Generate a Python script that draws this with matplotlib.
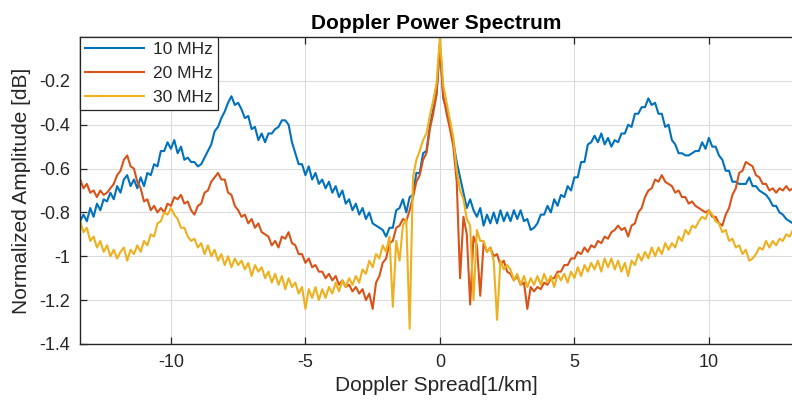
import numpy as np
import matplotlib
matplotlib.use("Agg")
import matplotlib.pyplot as plt

plt.rcParams['font.family'] = ['Liberation Sans', 'DejaVu Sans']

# Doppler spread axis (1/km), uniformly sampled
doppler = np.linspace(-13.375, 13.125, 213)

amp_10mhz = [
    -0.84, -0.81, -0.84, -0.78, -0.82, -0.76, -0.79, -0.74,
    -0.75, -0.71, -0.74, -0.68, -0.71, -0.65, -0.63, -0.68,
    -0.65, -0.69, -0.64, -0.68, -0.62, -0.63, -0.58, -0.59,
    -0.52, -0.52, -0.48, -0.51, -0.47, -0.53, -0.50, -0.56,
    -0.55, -0.57, -0.57, -0.59, -0.58, -0.55, -0.52, -0.49,
    -0.43, -0.41, -0.37, -0.34, -0.30, -0.27, -0.31, -0.30,
    -0.33, -0.37, -0.36, -0.42, -0.41, -0.47, -0.44, -0.48,
    -0.44, -0.44, -0.42, -0.41, -0.38, -0.38, -0.40, -0.48,
    -0.53, -0.58, -0.58, -0.63, -0.59, -0.65, -0.62, -0.67,
    -0.65, -0.69, -0.66, -0.71, -0.68, -0.73, -0.70, -0.76,
    -0.74, -0.79, -0.76, -0.81, -0.78, -0.83, -0.80, -0.85,
    -0.86, -0.87, -0.88, -0.91, -0.87, -0.87, -0.79, -0.78,
    -0.74, -0.80, -0.73, -0.72, -0.62, -0.62, -0.53, -0.52,
    -0.41, -0.33, -0.26, -0.03, -0.28, -0.33, -0.40, -0.48,
    -0.57, -0.64, -0.71, -0.78, -0.74, -0.79, -0.82, -0.78,
    -0.86, -0.81, -0.85, -0.80, -0.85, -0.79, -0.84, -0.80,
    -0.84, -0.79, -0.83, -0.79, -0.84, -0.83, -0.88, -0.87,
    -0.85, -0.81, -0.81, -0.77, -0.80, -0.74, -0.77, -0.72,
    -0.73, -0.68, -0.70, -0.64, -0.64, -0.57, -0.57, -0.49,
    -0.48, -0.45, -0.48, -0.44, -0.49, -0.46, -0.50, -0.47,
    -0.48, -0.44, -0.44, -0.40, -0.41, -0.35, -0.35, -0.32,
    -0.32, -0.28, -0.31, -0.30, -0.35, -0.35, -0.41, -0.40,
    -0.47, -0.49, -0.53, -0.53, -0.54, -0.54, -0.53, -0.52,
    -0.52, -0.48, -0.51, -0.46, -0.50, -0.50, -0.54, -0.56,
    -0.61, -0.61, -0.66, -0.66, -0.67, -0.67, -0.67, -0.64,
    -0.68, -0.68, -0.70, -0.71, -0.72, -0.74, -0.77, -0.77,
    -0.80, -0.81, -0.83, -0.84, -0.85,
]

amp_20mhz = [
    -0.65, -0.69, -0.67, -0.71, -0.70, -0.73, -0.70, -0.72,
    -0.71, -0.69, -0.67, -0.63, -0.61, -0.56, -0.54, -0.59,
    -0.60, -0.66, -0.69, -0.75, -0.74, -0.79, -0.77, -0.80,
    -0.78, -0.80, -0.76, -0.77, -0.73, -0.74, -0.72, -0.76,
    -0.75, -0.79, -0.81, -0.77, -0.76, -0.71, -0.70, -0.66,
    -0.64, -0.62, -0.65, -0.65, -0.71, -0.72, -0.77, -0.79,
    -0.82, -0.81, -0.85, -0.83, -0.87, -0.85, -0.89, -0.90,
    -0.91, -0.95, -0.93, -0.96, -0.91, -0.92, -0.89, -0.94,
    -0.95, -0.99, -0.99, -1.03, -1.01, -1.05, -1.04, -1.07,
    -1.07, -1.10, -1.08, -1.11, -1.09, -1.13, -1.11, -1.14,
    -1.13, -1.16, -1.14, -1.17, -1.15, -1.20, -1.17, -1.24,
    -1.12, -1.09, -1.03, -1.01, -0.94, -0.93, -0.87, -0.86,
    -0.83, -0.84, -0.79, -0.73, -0.66, -0.63, -0.56, -0.53,
    -0.42, -0.35, -0.26, -0.04, -0.27, -0.35, -0.42, -0.50,
    -0.66, -1.10, -0.82, -0.90, -1.22, -0.91, -0.95, -1.18,
    -0.94, -0.98, -0.96, -1.00, -0.99, -1.04, -1.02, -1.07,
    -1.08, -1.11, -1.09, -1.13, -1.12, -1.24, -1.14, -1.16,
    -1.14, -1.15, -1.12, -1.13, -1.10, -1.10, -1.07, -1.07,
    -1.04, -1.04, -1.01, -1.01, -0.98, -0.99, -0.96, -0.98,
    -0.95, -0.96, -0.93, -0.94, -0.91, -0.92, -0.89, -0.88,
    -0.86, -0.88, -0.87, -0.91, -0.86, -0.85, -0.80, -0.78,
    -0.73, -0.70, -0.69, -0.65, -0.66, -0.63, -0.66, -0.67,
    -0.68, -0.71, -0.70, -0.73, -0.73, -0.76, -0.75, -0.77,
    -0.78, -0.79, -0.80, -0.79, -0.82, -0.82, -0.85, -0.86,
    -0.81, -0.78, -0.72, -0.69, -0.62, -0.61, -0.57, -0.58,
    -0.59, -0.63, -0.64, -0.67, -0.67, -0.70, -0.69, -0.71,
    -0.69, -0.70, -0.68, -0.70, -0.69,
]

amp_30mhz = [
    -0.84, -0.89, -0.87, -0.93, -0.91, -0.96, -0.93, -0.98,
    -0.95, -1.00, -0.97, -1.01, -0.98, -0.96, -1.02, -0.97,
    -0.99, -0.95, -0.98, -0.93, -0.95, -0.90, -0.91, -0.85,
    -0.84, -0.80, -0.81, -0.78, -0.81, -0.83, -0.87, -0.87,
    -0.91, -0.93, -0.92, -0.96, -0.94, -0.99, -0.95, -1.00,
    -0.97, -1.02, -0.99, -1.04, -1.00, -1.05, -1.01, -1.04,
    -1.02, -1.06, -1.03, -1.09, -1.04, -1.07, -1.05, -1.10,
    -1.07, -1.12, -1.08, -1.13, -1.09, -1.15, -1.10, -1.14,
    -1.12, -1.17, -1.14, -1.24, -1.15, -1.19, -1.14, -1.20,
    -1.15, -1.19, -1.14, -1.17, -1.12, -1.16, -1.11, -1.14,
    -1.10, -1.13, -1.09, -1.12, -1.06, -1.08, -1.02, -1.05,
    -0.99, -1.01, -0.95, -0.98, -0.91, -1.23, -0.93, -1.02,
    -0.86, -0.83, -1.33, -0.64, -0.56, -0.52, -0.47, -0.44,
    -0.36, -0.29, -0.21, 0.00, -0.22, -0.30, -0.38, -0.46,
    -0.61, -0.70, -0.74, -0.83, -0.86, -1.20, -0.88, -0.93,
    -0.93, -0.98, -0.96, -1.02, -1.29, -1.02, -1.06, -1.04,
    -1.06, -1.11, -1.08, -1.13, -1.09, -1.14, -1.10, -1.13,
    -1.09, -1.13, -1.08, -1.12, -1.09, -1.14, -1.08, -1.11,
    -1.08, -1.12, -1.07, -1.10, -1.05, -1.09, -1.04, -1.07,
    -1.03, -1.06, -1.02, -1.07, -1.01, -1.05, -1.01, -1.06,
    -1.02, -1.07, -1.03, -1.09, -1.02, -1.04, -0.99, -1.02,
    -0.98, -1.01, -0.96, -1.00, -0.96, -0.99, -0.94, -0.97,
    -0.94, -0.96, -0.91, -0.93, -0.88, -0.90, -0.86, -0.87,
    -0.84, -0.82, -0.83, -0.79, -0.81, -0.84, -0.85, -0.89,
    -0.88, -0.93, -0.92, -0.96, -0.95, -0.99, -0.97, -1.02,
    -1.01, -0.99, -0.96, -0.97, -0.93, -0.96, -0.93, -0.95,
    -0.92, -0.93, -0.90, -0.91, -0.88,
]

series_labels = ['10 MHz', '20 MHz', '30 MHz']
series_colors = ['#0072BD', '#D95319', '#EDB120']
x_ticks = [-10, -5, 0, 5, 10]
y_ticks = [-1.4, -1.2, -1.0, -0.8, -0.6, -0.4, -0.2]
y_tick_labels = ['-1.4', '-1.2', '-1', '-0.8', '-0.6', '-0.4', '-0.2']

fig = plt.figure(figsize=(7.92, 4.04), dpi=100)
ax = fig.add_axes([80 / 792, 1 - 344 / 404, 1 - 80 / 792, (344 - 37) / 404])

dark = '#262626'
for vals, lab, col in zip([amp_10mhz, amp_20mhz, amp_30mhz], series_labels, series_colors):
    ax.plot(doppler, vals, color=col, lw=1.5, label=lab)

ax.set_xlim(-13.38, 13.09)
ax.set_ylim(-1.4, 0)
ax.set_xticks(x_ticks)
ax.set_xticklabels([str(t) for t in x_ticks])
ax.set_yticks(y_ticks)
ax.set_yticklabels(y_tick_labels)
ax.grid(True, color='#dcdcdc', lw=0.8)
ax.set_axisbelow(True)

for s in ['left', 'bottom', 'top']:
    ax.spines[s].set_color(dark)
    ax.spines[s].set_linewidth(1.0)
ax.spines['right'].set_visible(False)
ax.tick_params(axis='both', direction='in', length=5, width=0.9, color=dark,
               labelcolor=dark, labelsize=13, pad=7)
ax.tick_params(axis='x', top=True)

ax.set_xlabel('Doppler Spread[1/km]', fontsize=15, color=dark, labelpad=4)
ax.set_ylabel('Normalized Amplitude [dB]', fontsize=15, color=dark, labelpad=6)
ax.set_title('Doppler Power Spectrum', fontsize=15, fontweight='bold', color='black', pad=6)

leg = ax.legend(loc='upper left', fontsize=12.5, frameon=True, fancybox=False,
                framealpha=1, edgecolor=dark, borderaxespad=0, handlelength=3.4,
                borderpad=0.3, labelspacing=0.5, handletextpad=0.5)
leg.get_frame().set_linewidth(0.9)
for t in leg.get_texts():
    t.set_color(dark)

fig.savefig('out.png', dpi=100)
